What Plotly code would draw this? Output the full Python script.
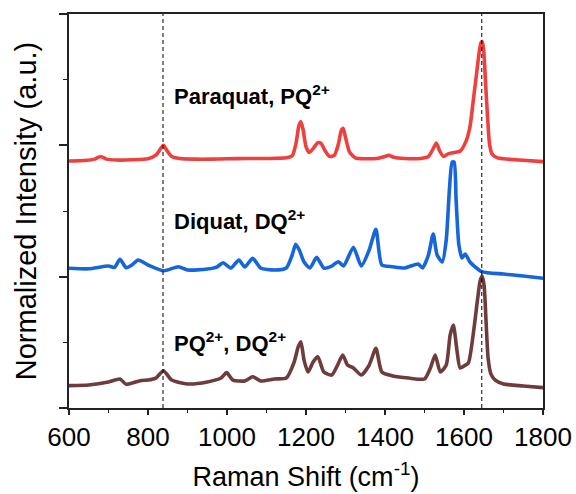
import plotly.graph_objects as go

# ---- data ----
pq_x = [600, 640, 665, 680, 695, 720, 760, 800, 820, 832, 839, 848, 860, 880, 920, 960, 1000, 1050,
        1100, 1150, 1165, 1175, 1182, 1187, 1192, 1200, 1208, 1218, 1230, 1238, 1248, 1260, 1272, 1282,
        1289, 1294, 1300, 1310, 1325, 1350, 1380, 1400, 1410, 1420, 1450, 1490, 1510, 1522, 1530, 1538,
        1548, 1560, 1575, 1590, 1605, 1615, 1625, 1632, 1638, 1643, 1646, 1650, 1655, 1660, 1665, 1672,
        1685, 1700, 1740, 1800]
pq_y = [1.881, 1.885, 1.895, 1.915, 1.895, 1.888, 1.890, 1.898, 1.925, 1.975, 2.000, 1.960, 1.915, 1.900,
        1.895, 1.895, 1.898, 1.900, 1.900, 1.905, 1.920, 2.020, 2.150, 2.180, 2.130, 1.990, 1.945, 1.975,
        2.020, 2.015, 1.960, 1.915, 1.925, 2.010, 2.110, 2.130, 2.060, 1.950, 1.905, 1.898, 1.900, 1.915,
        1.925, 1.912, 1.900, 1.900, 1.915, 1.975, 2.018, 1.960, 1.915, 1.935, 1.945, 1.955, 2.030, 2.140,
        2.380, 2.550, 2.700, 2.780, 2.790, 2.720, 2.450, 2.200, 2.000, 1.930, 1.905, 1.898, 1.888, 1.876]

dq_x = [600, 650, 700, 715, 729, 745, 760, 775, 800, 840, 877, 900, 950, 975, 990, 1010, 1030, 1045,
        1065, 1085, 1120, 1150, 1165, 1174, 1183, 1195, 1210, 1227, 1245, 1265, 1282, 1295, 1320, 1340,
        1360, 1377, 1392, 1419, 1450, 1484, 1495, 1510, 1522, 1532, 1545, 1555, 1563, 1570, 1575, 1580,
        1587, 1595, 1603, 1615, 1645, 1700, 1750, 1800]
dq_y = [1.064, 1.060, 1.081, 1.070, 1.132, 1.068, 1.090, 1.127, 1.089, 1.045, 1.076, 1.051, 1.058, 1.075,
        1.106, 1.066, 1.127, 1.074, 1.140, 1.066, 1.051, 1.066, 1.165, 1.246, 1.203, 1.112, 1.066, 1.147,
        1.066, 1.081, 1.114, 1.081, 1.224, 1.081, 1.203, 1.361, 1.089, 1.076, 1.066, 1.097, 1.066, 1.165,
        1.325, 1.165, 1.112, 1.279, 1.660, 1.873, 1.873, 1.584, 1.241, 1.142, 1.173, 1.112, 1.038, 1.020,
        1.005, 0.988]

mix_x = [600, 650, 700, 729, 745, 780, 800, 820, 839, 860, 900, 950, 985, 999, 1015, 1045, 1065, 1085,
         1120, 1150, 1170, 1180, 1187, 1195, 1205, 1218, 1230, 1245, 1265, 1280, 1293, 1305, 1320, 1340,
         1360, 1377, 1392, 1420, 1460, 1500, 1515, 1527, 1540, 1555, 1565, 1573, 1582, 1590, 1600, 1611,
         1625, 1634, 1641, 1646, 1651, 1656, 1661, 1668, 1680, 1700, 1750, 1800]
mix_y = [0.170, 0.175, 0.198, 0.221, 0.180, 0.208, 0.213, 0.228, 0.284, 0.213, 0.183, 0.198, 0.228, 0.269,
         0.213, 0.206, 0.238, 0.206, 0.221, 0.228, 0.350, 0.464, 0.505, 0.365, 0.274, 0.350, 0.391, 0.274,
         0.251, 0.327, 0.404, 0.327, 0.305, 0.251, 0.327, 0.455, 0.274, 0.244, 0.228, 0.221, 0.305, 0.404,
         0.274, 0.327, 0.556, 0.632, 0.442, 0.305, 0.320, 0.343, 0.600, 0.820, 0.970, 1.005, 0.930, 0.650,
         0.380, 0.260, 0.210, 0.183, 0.168, 0.155]

marker_lines = [838, 1645]

labels = ["Paraquat, PQ<sup>2+</sup>", "Diquat, DQ<sup>2+</sup>", "PQ<sup>2+</sup>, DQ<sup>2+</sup>"]
label_x = [862, 862, 862]
label_y = [2.38, 1.43, 0.50]

series = [
    (pq_x, pq_y, "#EF4040"),
    (dq_x, dq_y, "#1666DA"),
    (mix_x, mix_y, "#6E3C3C"),
]

FONT = "Arial, Liberation Sans, sans-serif"

fig = go.Figure()
for xs, ys, col in series:
    fig.add_trace(go.Scatter(x=xs, y=ys, mode="lines",
                             line=dict(color=col, width=3.6, shape="spline", smoothing=0.6),
                             showlegend=False, hoverinfo="skip"))

for xv in marker_lines:
    fig.add_shape(type="line", xref="x", yref="paper", x0=xv, x1=xv, y0=0, y1=1,
                  line=dict(color="black", width=1, dash="4px,3px"), layer="above")

for t, xv, yv in zip(labels, label_x, label_y):
    fig.add_annotation(x=xv, y=yv, xref="x", yref="y", text=f"<b>{t}</b>", showarrow=False,
                       xanchor="left", yanchor="middle",
                       font=dict(family=FONT, size=22, color="black"))

fig.update_layout(
    width=576, height=494,
    margin=dict(l=69, r=33, t=14, b=86),
    paper_bgcolor="white", plot_bgcolor="white",
    font=dict(family=FONT, color="black"),
    xaxis=dict(range=[600, 1800], dtick=200, tick0=600, showgrid=False, zeroline=False,
               automargin=False,
               showline=True, linecolor="#222", linewidth=1.5, mirror=True,
               ticks="outside", ticklen=5, tickwidth=1.5, tickcolor="#222",
               tickfont=dict(size=26, family=FONT),
               minor=dict(dtick=100, ticks="outside", ticklen=3, tickwidth=1.2, tickcolor="#222"),
               title=dict(text="Raman Shift (cm<sup>-1</sup>)", font=dict(size=27, family=FONT),
                          standoff=16)),
    yaxis=dict(range=[0, 3], dtick=1, tick0=0, showgrid=False, zeroline=False,
               automargin=False,
               showline=True, linecolor="#222", linewidth=1.5, mirror=True,
               ticks="outside", ticklen=8, tickwidth=1.5, tickcolor="#222",
               showticklabels=False,
               minor=dict(dtick=0.5, ticks="outside", ticklen=4, tickwidth=1.2, tickcolor="#222"),
               title=dict(text="Normalized Intensity (a.u.)", font=dict(size=29, family=FONT),
                          standoff=14)),
)

fig.write_html("out.html")
